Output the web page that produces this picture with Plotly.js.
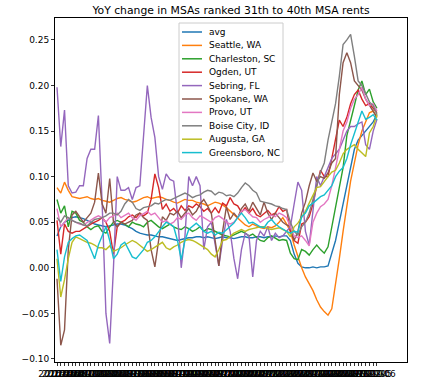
<!DOCTYPE html>
<html>
<head>
<meta charset="utf-8">
<script src="https://cdn.plot.ly/plotly-3.0.1.min.js"></script>
<style>html,body{margin:0;padding:0;background:#fff;}#chart{width:433px;height:390px;}</style>
</head>
<body>
<div id="chart"></div>
<script>
// Category labels (monthly) for the x axis
const monthLabels = [];
for (let i = 0; i < 90; i++) {
  const y = 2016 + Math.floor(i / 12);
  const m = (i % 12) + 1;
  monthLabels.push(y + "-" + (m < 10 ? "0" + m : m));
}
const firstDataIndex = 4;

const seriesNames = ["avg", "Seattle, WA", "Charleston, SC", "Ogden, UT", "Sebring, FL",
  "Spokane, WA", "Provo, UT", "Boise City, ID", "Augusta, GA", "Greensboro, NC"];
const seriesColors = ["#1f77b4", "#ff7f0e", "#2ca02c", "#d62728", "#9467bd",
  "#8c564b", "#e377c2", "#7f7f7f", "#bcbd22", "#17becf"];

const avg = [0.035,0.045,0.05,0.052,0.055,0.056,0.055,0.054,0.052,0.05,
  0.048,0.047,0.046,0.045,0.046,0.047,0.048,0.048,0.047,0.045,
  0.043,0.04,0.038,0.037,0.036,0.036,0.035,0.034,0.034,0.033,
  0.032,0.031,0.03,0.031,0.032,0.033,0.033,0.034,0.034,0.033,
  0.034,0.033,0.032,0.033,0.034,0.033,0.033,0.032,0.033,0.034,
  0.034,0.033,0.033,0.034,0.034,0.033,0.034,0.034,0.035,0.034,
  0.035,0.035,0.03,0.015,0.005,0.001,0.0,0.0,0.001,0.0,
  0.001,0.001,0.002,0.015,0.03,0.05,0.07,0.09,0.11,0.13,
  0.14,0.145,0.15,0.155,0.16,0.168];
const seattle = [0.088,0.082,0.094,0.085,0.078,0.077,0.076,0.077,0.078,0.076,
  0.075,0.076,0.074,0.073,0.072,0.074,0.076,0.077,0.075,0.074,
  0.072,0.073,0.075,0.077,0.078,0.076,0.077,0.078,0.077,0.075,
  0.074,0.072,0.071,0.073,0.075,0.074,0.074,0.072,0.071,0.07,
  0.068,0.07,0.072,0.071,0.069,0.066,0.062,0.058,0.055,0.05,
  0.047,0.045,0.048,0.046,0.044,0.043,0.045,0.044,0.046,0.05,
  0.055,0.048,0.04,0.025,0.012,0.0,-0.01,-0.018,-0.025,-0.035,
  -0.043,-0.048,-0.052,-0.045,-0.02,0.01,0.04,0.07,0.095,0.115,
  0.135,0.15,0.16,0.17,0.172,0.165];
const charleston = [0.075,0.06,0.068,0.045,0.062,0.06,0.052,0.05,0.045,0.042,
  0.045,0.046,0.04,0.038,0.045,0.05,0.052,0.05,0.048,0.045,
  0.05,0.048,0.047,0.045,0.05,0.052,0.048,0.045,0.043,0.046,
  0.048,0.045,0.043,0.042,0.045,0.043,0.04,0.042,0.045,0.04,
  0.043,0.042,0.04,0.038,0.036,0.035,0.034,0.036,0.038,0.04,
  0.038,0.035,0.037,0.033,0.03,0.029,0.033,0.035,0.032,0.03,
  0.031,0.03,0.016,0.01,0.009,0.02,0.018,0.014,0.02,0.025,
  0.02,0.016,0.023,0.045,0.064,0.086,0.11,0.145,0.16,0.178,
  0.195,0.205,0.19,0.196,0.182,0.175];
const ogden = [0.052,0.015,0.048,0.04,0.038,0.04,0.04,0.043,0.045,0.048,
  0.05,0.052,0.055,0.05,0.04,0.015,0.045,0.05,0.052,0.056,
  0.058,0.055,0.06,0.057,0.06,0.075,0.103,0.088,0.064,0.07,
  0.062,0.065,0.06,0.068,0.063,0.068,0.066,0.07,0.067,0.062,
  0.065,0.06,0.066,0.06,0.071,0.068,0.077,0.07,0.068,0.061,
  0.066,0.06,0.065,0.058,0.056,0.06,0.063,0.058,0.06,0.067,
  0.062,0.064,0.04,0.03,0.027,0.048,0.05,0.056,0.07,0.09,
  0.107,0.1,0.1,0.12,0.14,0.162,0.155,0.165,0.18,0.19,
  0.195,0.185,0.178,0.18,0.175,0.17];
const sebring = [0.198,0.133,0.173,0.09,0.082,0.083,0.09,0.09,0.12,0.13,
  0.13,0.167,0.07,-0.05,-0.083,0.0,0.1,0.085,0.085,0.088,
  0.075,0.088,0.09,0.14,0.2,0.165,0.143,0.1,0.086,0.103,
  0.097,0.095,0.06,0.0,0.035,0.1,0.09,0.1,0.09,0.02,
  0.045,0.05,0.027,0.002,0.03,0.053,0.04,0.01,-0.012,0.02,
  0.038,0.035,-0.01,0.03,0.04,0.035,0.045,0.03,0.038,0.033,
  0.035,0.04,0.045,0.07,0.094,0.085,0.04,0.025,0.06,0.1,
  0.09,0.1,0.11,0.12,0.125,0.13,0.14,0.15,0.155,0.155,
  0.158,0.16,0.135,0.13,0.15,0.163];
const spokane = [-0.012,-0.085,-0.068,0.02,0.058,0.062,0.056,0.05,0.055,0.06,
  0.072,0.104,0.07,0.06,0.098,0.05,0.045,0.05,0.048,0.05,
  0.052,0.058,0.06,0.055,0.052,0.02,0.001,0.03,0.056,0.052,
  0.06,0.058,0.062,0.055,0.06,0.065,0.058,0.062,0.07,0.075,
  0.068,0.06,0.03,0.002,0.04,0.067,0.053,0.06,0.055,0.065,
  0.07,0.062,0.072,0.065,0.058,0.072,0.06,0.053,0.06,0.055,
  0.05,0.047,0.045,0.03,0.04,0.06,0.072,0.09,0.104,0.095,
  0.1,0.098,0.104,0.115,0.12,0.19,0.225,0.236,0.225,0.205,
  0.2,0.195,0.185,0.178,0.172,0.165];
const provo = [0.065,0.045,0.05,0.055,0.052,0.05,0.048,0.047,0.05,0.052,
  0.055,0.057,0.055,0.05,0.055,0.057,0.06,0.055,0.058,0.06,
  0.055,0.052,0.057,0.06,0.062,0.058,0.06,0.055,0.05,0.052,
  0.048,0.05,0.055,0.053,0.058,0.06,0.055,0.052,0.057,0.055,
  0.052,0.05,0.055,0.057,0.054,0.05,0.048,0.05,0.055,0.062,
  0.064,0.06,0.056,0.055,0.05,0.053,0.055,0.058,0.056,0.06,
  0.058,0.055,0.045,0.035,0.033,0.035,0.03,0.024,0.05,0.06,
  0.067,0.07,0.075,0.09,0.11,0.13,0.15,0.16,0.175,0.185,
  0.19,0.198,0.185,0.178,0.18,0.172];
const boise = [0.055,0.05,0.057,0.055,0.052,0.05,0.049,0.047,0.046,0.05,
  0.053,0.054,0.055,0.057,0.06,0.06,0.058,0.062,0.07,0.075,
  0.072,0.065,0.063,0.066,0.067,0.068,0.071,0.07,0.073,0.075,
  0.074,0.076,0.078,0.08,0.082,0.08,0.077,0.079,0.08,0.083,
  0.085,0.084,0.08,0.083,0.082,0.079,0.08,0.078,0.082,0.088,
  0.093,0.09,0.085,0.082,0.073,0.072,0.071,0.07,0.068,0.067,
  0.065,0.064,0.05,0.04,0.036,0.045,0.05,0.06,0.075,0.09,
  0.105,0.115,0.14,0.16,0.18,0.21,0.245,0.25,0.256,0.232,
  0.205,0.2,0.19,0.182,0.178,0.168];
const augusta = [0.01,-0.032,-0.013,0.01,0.028,0.034,0.032,0.03,0.028,0.027,
  0.025,0.022,0.022,0.02,0.024,0.018,0.02,0.022,0.025,0.028,
  0.03,0.028,0.025,0.022,0.018,0.02,0.023,0.025,0.028,0.022,
  0.02,0.023,0.025,0.028,0.03,0.031,0.03,0.028,0.025,0.022,
  0.02,0.015,0.012,0.02,0.03,0.031,0.035,0.038,0.04,0.042,
  0.04,0.042,0.043,0.044,0.045,0.045,0.043,0.042,0.043,0.044,
  0.042,0.04,0.034,0.045,0.049,0.056,0.062,0.071,0.08,0.088,
  0.089,0.095,0.1,0.105,0.107,0.115,0.125,0.13,0.133,0.135,
  0.13,0.126,0.122,0.148,0.155,0.168];
const greensboro = [0.02,-0.015,0.012,0.028,0.032,0.035,0.036,0.033,0.03,0.02,
  0.01,0.025,0.035,0.045,0.03,0.01,0.015,0.025,0.028,0.02,
  0.012,0.01,0.015,0.02,0.028,0.03,0.034,0.04,0.045,0.05,
  0.048,0.045,0.03,0.009,0.03,0.042,0.045,0.049,0.045,0.04,
  0.038,0.04,0.036,0.039,0.038,0.042,0.045,0.049,0.055,0.06,
  0.055,0.049,0.05,0.047,0.045,0.044,0.05,0.053,0.048,0.045,
  0.042,0.04,0.038,0.04,0.039,0.056,0.06,0.068,0.071,0.075,
  0.078,0.08,0.085,0.09,0.1,0.106,0.11,0.12,0.135,0.148,
  0.16,0.172,0.163,0.165,0.168,0.162];

const yTicks = [-0.10, -0.05, 0.00, 0.05, 0.10, 0.15, 0.20, 0.25];

const allSeries = [avg, seattle, charleston, ogden, sebring, spokane, provo, boise, augusta, greensboro];
const xData = monthLabels.slice(firstDataIndex);

const traces = allSeries.map((vals, i) => ({
  type: "scatter", mode: "lines", name: seriesNames[i],
  x: xData, y: vals,
  line: {color: seriesColors[i], width: 1.4},
  showlegend: false
}));

// Hand-built legend (matplotlib style spacing)
const L = {l: 55, t: 18, w: 352, h: 344};
const px = x => (x - L.l) / L.w;
const py = y => (L.t + L.h - y) / L.h;
const shapes = [{
  type: "rect", xref: "paper", yref: "paper",
  x0: px(179), x1: px(283), y0: py(162), y1: py(23),
  fillcolor: "rgba(255,255,255,0.8)", line: {color: "#cccccc", width: 1}, layer: "above"
}];
const annotations = [];
seriesNames.forEach((n, i) => {
  const yy = 32 + 13.4 * i;
  shapes.push({type: "line", xref: "paper", yref: "paper",
    x0: px(182), x1: px(202), y0: py(yy), y1: py(yy),
    line: {color: seriesColors[i], width: 1.5}, layer: "above"});
  annotations.push({xref: "paper", yref: "paper", x: px(207), y: py(yy),
    xanchor: "left", yanchor: "middle", text: n, showarrow: false,
    font: {size: 9, color: "#000", family: "DejaVu Sans"}});
});

const layout = {
  width: 433, height: 390,
  margin: {l: 55, r: 26, t: 18, b: 28, pad: 0},
  paper_bgcolor: "#fff", plot_bgcolor: "#fff",
  font: {family: "DejaVu Sans", color: "#000", size: 9},
  title: {text: "YoY change in MSAs ranked 31th to 40th MSA rents",
    x: 0.5, xref: "paper", xanchor: "center", y: 1 - 10 / 390, yref: "container", yanchor: "middle",
    font: {size: 10.8, family: "DejaVu Sans", color: "#000"}},
  xaxis: {type: "category", range: [-0.53, 92.98],
    tickmode: "array", tickvals: monthLabels, ticktext: monthLabels, tickangle: 0,
    ticks: "outside", ticklen: 3, tickwidth: 0.8, tickcolor: "#000",
    showline: true, linecolor: "#000", linewidth: 1, mirror: true,
    showgrid: false, zeroline: false, tickfont: {size: 9, color: "#000"}},
  yaxis: {range: [-0.1033, 0.274], tickmode: "array", tickvals: yTicks, tickformat: ".2f",
    ticks: "outside", ticklen: 3, tickwidth: 0.8, tickcolor: "#000",
    showline: true, linecolor: "#000", linewidth: 1, mirror: true,
    showgrid: false, zeroline: false, tickfont: {size: 9, color: "#000"}},
  shapes: shapes, annotations: annotations, showlegend: false
};

Plotly.newPlot("chart", traces, layout, {staticPlot: true, displayModeBar: false});
</script>
</body>
</html>
